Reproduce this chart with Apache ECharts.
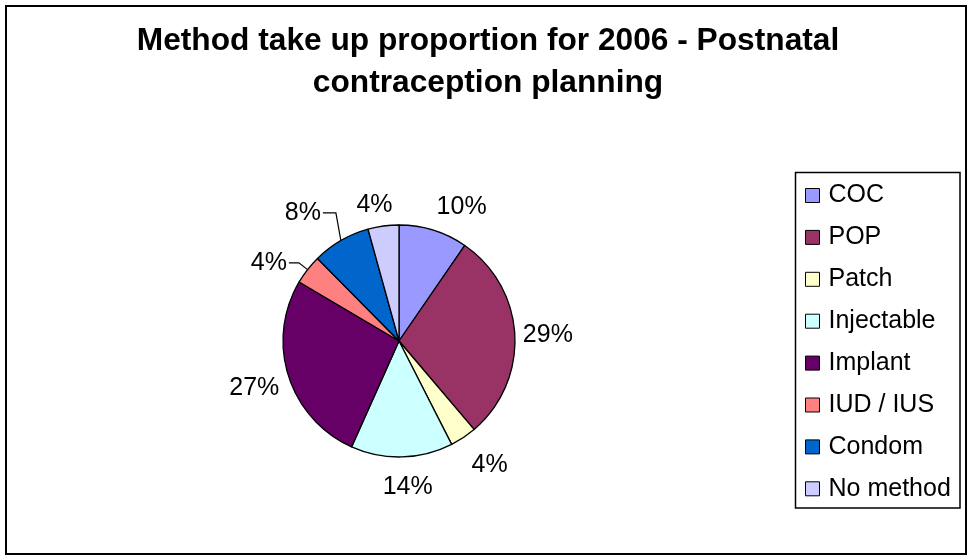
<!DOCTYPE html>
<html><head><meta charset="utf-8">
<script src="https://cdn.jsdelivr.net/npm/echarts@6/dist/echarts.min.js"></script>
<style>html,body{margin:0;padding:0;background:#fff}#c{width:968px;height:558px}</style>
</head><body><div id="c"></div>
<script>
const categories = ['COC','POP','Patch','Injectable','Implant','IUD / IUS','Condom','No method'];
const values = [9.6, 29.2, 3.7, 14.2, 26.8, 4.1, 8.1, 4.3];
const colors = ['#9999FF','#993366','#FFFFCC','#CCFFFF','#660066','#FF8080','#0066CC','#CCCCFF'];
// leader-line visibility and label offsets (length / length2) per slice
const withLine = [false,false,false,false,false,true,true,false];
const lineLen  = [24, 0, 33, 30, 39, 11, 32, 21];
const lineLen2 = [-6, 6, -12, -22, -30, 10, 2, -14];

const chart = echarts.init(document.getElementById('c'));
const font = '"Liberation Sans", Arial, sans-serif';
chart.setOption({
  animation: false,
  textStyle: {fontFamily: font},
  title: {
    text: 'Method take up proportion for 2006 - Postnatal\ncontraception planning',
    left: 488, top: 20, textAlign: 'center', padding: 0,
    textStyle: {fontFamily: font, fontSize: 31.7, fontWeight: 'bold', color: '#000', lineHeight: 42}
  },
  graphic: [
    {type: 'rect', shape: {x: 6, y: 6, width: 960, height: 548}, style: {fill: 'none', stroke: '#000', lineWidth: 2}, silent: true},
    {type: 'rect', shape: {x: 795.5, y: 172.5, width: 164.5, height: 335.5}, style: {fill: 'none', stroke: '#000', lineWidth: 1.5}, silent: true}
  ],
  legend: {
    orient: 'vertical', left: 805, top: 183, padding: 0, itemGap: 16.9,
    itemWidth: 14, itemHeight: 14, icon: 'rect',
    itemStyle: {borderColor: '#000', borderWidth: 1},
    textStyle: {fontFamily: font, fontSize: 25, lineHeight: 25, color: '#000', padding: [0,0,0,4]},
    data: categories
  },
  series: [{
    type: 'pie', center: [399, 341], radius: 116, startAngle: 90, clockwise: true,
    avoidLabelOverlap: false,
    itemStyle: {borderColor: '#000', borderWidth: 1.3},
    label: {
      show: true, position: 'outside', fontFamily: font, fontSize: 25, color: '#000',
      distanceToLabelLine: 2,
      formatter: p => Math.round(p.percent) + '%'
    },
    labelLine: {show: false, lineStyle: {color: '#000', width: 1.2}},
    labelLayout: function (params) {
      const p = params.labelLinePoints;
      if (params.dataIndex === 6 && p) {
        return {labelLinePoints: [p[0], [p[0][0] - 5, p[2][1]], p[2]]};
      }
      return {};
    },
    data: categories.map((n, i) => ({
      name: n, value: values[i], itemStyle: {color: colors[i]},
      labelLine: {show: withLine[i], length: lineLen[i], length2: lineLen2[i]}
    }))
  }]
});
</script></body></html>
